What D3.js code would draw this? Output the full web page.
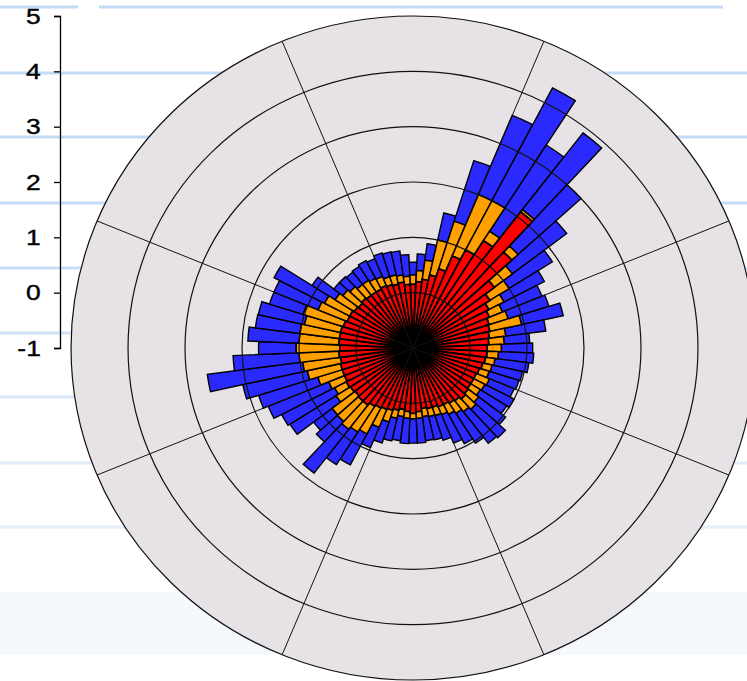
<!DOCTYPE html>
<html>
<head>
<meta charset="utf-8">
<script src="https://cdn.jsdelivr.net/npm/d3@7/dist/d3.min.js"></script>
<style>
    body { margin: 0; background: #ffffff; }
    svg { display: block; }
</style>
</head>
<body>
<svg id="mainSVG"></svg>
<script>
// direction of each bar (degrees, clockwise from north)
var directions = [0, 5, 10, 15, 20, 25, 30, 35, 40, 45, 50, 55,
    60, 65, 70, 75, 80, 85, 90, 95, 100, 105, 110, 115,
    120, 125, 130, 135, 140, 145, 150, 155, 160, 165, 170, 175,
    180, 185, 190, 195, 200, 205, 210, 215, 220, 225, 230, 235,
    240, 245, 250, 255, 260, 265, 270, 275, 280, 285, 290, 295,
    300, 305, 310, 315, 320, 325, 330, 335, 340, 345, 350, 355];

// stacked segments, inner (red) to outer (blue)
var redValues = [1.15, 1.2, 1.25, 1.35, 1.5, 1.8, 2.0, 2.3, 3.1, 2.35, 1.8, 1.6,
    1.5, 1.45, 1.4, 1.38, 1.35, 1.33, 1.3, 1.3, 1.28, 1.25, 1.22, 1.2,
    1.2, 1.2, 1.22, 1.25, 1.2, 1.18, 1.15, 1.15, 1.12, 1.12, 1.1, 1.15,
    1.18, 1.15, 1.12, 1.15, 1.18, 1.2, 1.22, 1.25, 1.3, 1.3, 1.28, 1.3,
    1.32, 1.3, 1.3, 1.3, 1.28, 1.3, 1.28, 1.3, 1.3, 1.3, 1.28, 1.25,
    1.25, 1.22, 1.2, 1.22, 1.2, 1.2, 1.2, 1.22, 1.2, 1.18, 1.2, 1.15];
var orangeValues = [0.17, 0.2, 0.35, 0.65, 0.9, 1.2, 1.0, 0.2, 0.05, 0.15, 0.4, 0.4,
    0.3, 0.25, 0.35, 0.57, 0.29, 0.27, 0.25, 0.2, 0.17, 0.17, 0.18, 0.25,
    0.22, 0.2, 0.23, 0.25, 0.25, 0.22, 0.2, 0.15, 0.16, 0.15, 0.15, 0.12,
    0.1, 0.12, 0.13, 0.15, 0.22, 0.35, 0.53, 0.55, 0.55, 0.5, 0.51, 0.3,
    0.23, 0.3, 0.45, 0.6, 0.67, 0.7, 0.77, 0.7, 0.7, 0.65, 0.74, 0.55,
    0.5, 0.4, 0.35, 0.28, 0.25, 0.25, 0.22, 0.18, 0.15, 0.17, 0.13, 0.15];
var blueValues = [0.23, 0.3, 0.3, 0.5, 1.15, 1.55, 2.3, 1.85, 1.75, 1.5, 1.2, 0.9,
    0.8, 0.75, 0.75, 0.75, 0.71, 0.45, 0.55, 0.62, 0.6, 0.55, 0.55, 0.47,
    0.58, 0.55, 0.6, 0.7, 0.72, 0.64, 0.6, 0.56, 0.47, 0.43, 0.44, 0.45,
    0.44, 0.46, 0.44, 0.42, 0.4, 0.4, 0.63, 0.7, 1.0, 0.5, 0.41, 0.96,
    1.05, 1.15, 1.09, 1.16, 1.69, 1.16, 0.66, 0.9, 0.79, 0.83, 0.62, 0.84,
    1.0, 0.48, 0.2, 0.25, 0.28, 0.3, 0.36, 0.35, 0.45, 0.43, 0.44, 0.39];

// radial axis labels
var radialTicks = [-1, 0, 1, 2, 3, 4, 5];
// bearings of the spokes
var spokeAngles = [22.5, 67.5, 112.5, 157.5, 202.5, 247.5, 292.5, 337.5];

var width = 747;
var height = 681;
// polar plot position, the picture is a little wider than tall
var cx = 413;
var cy = 348;
var radius = 332;
var stretchX = 1.03;
var sectorWidth = 5;

var colors = { red: "#ff0000", orange: "#ffa000", blue: "#2a2aff" };
// outlines get thicker toward the middle of the rose
var strokes = { red: 1.8, orange: 1.5, blue: 1.4 };

var svg = d3.select("#mainSVG")
    .attr("width", width)
    .attr("height", height);

// light lines of the page behind the chart
var bgLines = [
    { y: 7, c: "#c4dbf6" }, { y: 73, c: "#c4dbf6" }, { y: 137, c: "#c4dbf6" },
    { y: 203, c: "#c4dbf6" }, { y: 268, c: "#c8ddf6" }, { y: 333, c: "#cfe2f8" },
    { y: 397, c: "#d9e6f7" }, { y: 463, c: "#e2ebf8" }, { y: 527, c: "#e6eef9" }
];
svg.append("rect")
    .attr("x", 0).attr("y", 592)
    .attr("width", width).attr("height", 63)
    .attr("fill", "#f5f8fd");
svg.append("g")
    .selectAll("line")
    .data(bgLines)
    .enter()
    .append("line")
    .attr("x1", 0)
    .attr("x2", function(d, i) { return i == 0 ? 723 : width; })
    .attr("y1", function(d) { return d.y; })
    .attr("y2", function(d) { return d.y; })
    .attr("stroke", function(d) { return d.c; })
    .attr("stroke-width", 3);
// small gap in the top line
svg.append("rect")
    .attr("x", 78).attr("y", 4)
    .attr("width", 21).attr("height", 7)
    .attr("fill", "#ffffff");

// radial scale, -1 sits at the centre
var r = d3.scaleLinear()
    .domain([-1, 5])
    .range([0, radius]);

// stack the three layers
var table = directions.map(function(dir, i) {
    return { dir: dir, red: redValues[i], orange: orangeValues[i], blue: blueValues[i] };
});
var stacked = d3.stack().keys(["red", "orange", "blue"])(table);

var rad = Math.PI / 180;
var arc = d3.arc()
    .innerRadius(function(d) { return r(-1 + d[0]); })
    .outerRadius(function(d) { return r(-1 + d[1]); })
    .startAngle(function(d) { return (d.data.dir - sectorWidth / 2) * rad; })
    .endAngle(function(d) { return (d.data.dir + sectorWidth / 2) * rad; });

var polar = svg.append("g")
    .attr("transform", "translate(" + cx + "," + cy + ") scale(" + stretchX + ",1)");

// grey disk
polar.append("circle")
    .attr("r", radius)
    .attr("fill", "#e6e2e6");

// bars, outer layer first
var layers = polar.append("g")
    .selectAll("g")
    .data(stacked.slice().reverse())
    .enter()
    .append("g")
    .attr("fill", function(d) { return colors[d.key]; })
    .attr("stroke-width", function(d) { return strokes[d.key]; });

layers.selectAll("path")
    .data(function(d) { return d; })
    .enter()
    .append("path")
    .attr("d", arc)
    .attr("stroke", "#000")
    .attr("vector-effect", "non-scaling-stroke");

// rings
polar.append("g")
    .selectAll("circle")
    .data(radialTicks.slice(1))
    .enter()
    .append("circle")
    .attr("r", function(d) { return r(d); })
    .attr("fill", "none")
    .attr("stroke", "#111")
    .attr("stroke-width", 1.2)
    .attr("vector-effect", "non-scaling-stroke");

// spokes
polar.append("g")
    .selectAll("line")
    .data(spokeAngles)
    .enter()
    .append("line")
    .attr("x1", 0)
    .attr("y1", 0)
    .attr("x2", function(d) { return radius * Math.sin(d * rad); })
    .attr("y2", function(d) { return -radius * Math.cos(d * rad); })
    .attr("stroke", "#111")
    .attr("stroke-width", 1)
    .attr("vector-effect", "non-scaling-stroke");

// left value axis, same scale as the rings
var axisScale = d3.scaleLinear()
    .domain([-1, 5])
    .range([cy, cy - radius]);

var axis = svg.append("g")
    .attr("transform", "translate(60,0)")
    .call(d3.axisLeft(axisScale)
        .tickValues(radialTicks)
        .tickSize(6)
        .tickPadding(10)
        .tickFormat(function(d) { return String(d); }));

axis.selectAll("path, line").attr("stroke", "#000").attr("stroke-width", 1.3);
// labels in the picture are drawn wide
axis.selectAll("text")
    .attr("fill", "#000")
    .attr("stroke", "#000")
    .attr("stroke-width", 0.4)
    .attr("transform", "scale(1.2,1)")
    .style("font-family", "'Liberation Sans', Arial, sans-serif")
    .style("font-size", "22px");
</script>
</body>
</html>
